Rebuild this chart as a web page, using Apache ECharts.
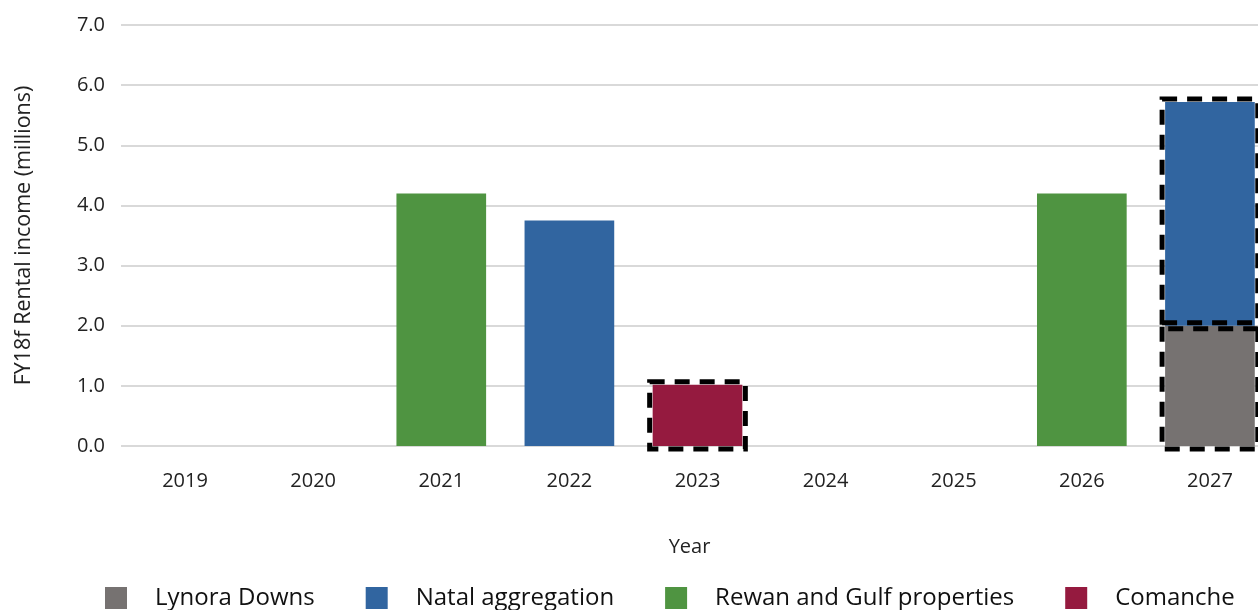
<!DOCTYPE html>
<html>
<head>
<meta charset="utf-8">
<script src="https://cdn.jsdelivr.net/npm/echarts@6/dist/echarts.min.js"></script>
<style>html,body{margin:0;padding:0;background:#fff;overflow:hidden;width:1258px;height:610px}#c{width:1274px;height:610px}</style>
</head>
<body>
<div id="c"></div>
<script>
const years = ["2019","2020","2021","2022","2023","2024","2025","2026","2027"];
const lynoraDowns = [null,null,null,null,null,null,null,null,2.0];
const natalAggregation = [null,null,null,3.75,null,null,null,null,3.72];
const rewanGulf = [null,null,4.2,null,null,null,null,4.2,null];
const comanche = [null,null,null,null,1.02,null,null,null,null];
const highlightedYears = ["2023","2027"];
const yTicks = [0,1,2,3,4,5,6,7];

const FONT = '"Open Sans", "Noto Sans", sans-serif';
const BAR_RATIO = 0.7;
const seriesDefs = [
  {name:'Lynora Downs', data:lynoraDowns, color:'#767271'},
  {name:'Natal aggregation', data:natalAggregation, color:'#3165A0'},
  {name:'Rewan and Gulf properties', data:rewanGulf, color:'#4F9441'},
  {name:'Comanche', data:comanche, color:'#951A3F'}
];
// segments to outline: [categoryIndex, base, top]
const outlineSegments = [];
years.forEach((y,i)=>{
  if (!highlightedYears.includes(y)) return;
  let base = 0;
  seriesDefs.forEach(s=>{
    const v = s.data[i];
    if (v !== null) { outlineSegments.push([i, base, base+v]); base += v; }
  });
});

const chart = echarts.init(document.getElementById('c'), null, {renderer:'canvas'});
chart.setOption({
  animation:false,
  textStyle:{fontFamily:FONT},
  grid:{left:121, right:0, top:25, bottom:164, containLabel:false},
  legend:{
    left:100, bottom:-5, icon:'rect', itemWidth:22, itemHeight:22, itemGap:51,
    textStyle:{fontFamily:FONT, fontSize:24, color:'#111', padding:[0,0,0,23]},
    data:seriesDefs.map(s=>s.name)
  },
  xAxis:{
    type:'category', data:years,
    name:'Year', nameLocation:'middle', nameGap:91,
    nameTextStyle:{fontFamily:FONT, fontSize:20, color:'#222', padding:[0,16,0,0]},
    axisLine:{show:false}, axisTick:{show:false},
    axisLabel:{fontFamily:FONT, fontSize:20, color:'#222', margin:25}
  },
  yAxis:{
    type:'value', min:yTicks[0], max:yTicks[yTicks.length-1], interval:1,
    name:'FY18f Rental income (millions)', nameLocation:'middle', nameGap:86,
    nameTextStyle:{fontFamily:FONT, fontSize:21.5, color:'#222'},
    axisLabel:{fontFamily:FONT, fontSize:20, color:'#222', margin:16, formatter:v=>v.toFixed(1)},
    axisLine:{show:false}, axisTick:{show:false},
    splitLine:{lineStyle:{color:'#d9d9d9', width:2}}
  },
  series:seriesDefs.map(s=>({
    name:s.name, type:'bar', stack:'total', barCategoryGap:'30%',
    itemStyle:{color:s.color},
    data:s.data
  })).concat([{
    type:'custom', name:'outline', z:10, silent:true,
    data:outlineSegments,
    encode:{x:0, y:[1,2]},
    renderItem:function(params, api){
      const i = api.value(0);
      const pTop = api.coord([i, api.value(2)]);
      const pBase = api.coord([i, api.value(1)]);
      const w = api.size([1,0])[0]*BAR_RATIO;
      const pad = 3;
      return {
        type:'rect',
        shape:{x:pTop[0]-w/2-pad, y:pTop[1]-pad, width:w+2*pad, height:pBase[1]-pTop[1]+2*pad},
        style:{fill:null, stroke:'#000', lineWidth:5, lineDash:[15,10]}
      };
    }
  }])
});
</script>
</body>
</html>
